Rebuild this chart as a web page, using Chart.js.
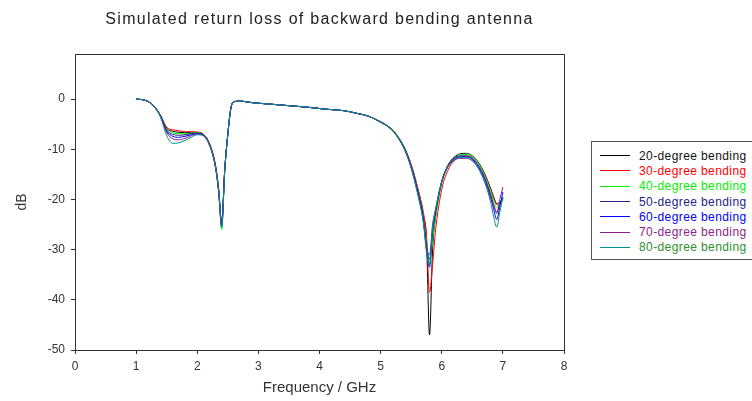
<!DOCTYPE html>
<html>
<head>
<meta charset="utf-8">
<script src="https://cdn.jsdelivr.net/npm/chart.js@4.4.1/dist/chart.umd.min.js"></script>
<style>
  html, body { margin: 0; padding: 0; background: #fff; overflow: hidden; }
  #wrap { position: relative; width: 752px; height: 401px; }
  #legend {
    position: absolute; left: 591px; top: 141px; width: 175px; height: 119px;
    border: 1px solid #555; background: #fff; box-sizing: border-box;
    padding-top: 6px; font-family: Arial, "Liberation Sans", sans-serif; font-size: 12px;
  }
  #legend .row { height: 15.3px; display: flex; align-items: center; white-space: nowrap; }
  #legend .swatch { width: 30px; height: 0; border-top: 1px solid; margin-left: 8px; margin-right: 9px; }
</style>
</head>
<body>
<div id="wrap">
  <canvas id="chart" width="752" height="401"></canvas>
  <div id="legend"></div>
</div>
<script>
const title = "Simulated return loss of backward bending antenna";
const xTitle = "Frequency / GHz";
const yTitle = "dB";

const freq = [1.0, 1.1, 1.2, 1.3, 1.4, 1.5, 1.6, 1.7, 1.8, 1.9,
  2.0, 2.1, 2.2, 2.3, 2.35, 2.4, 2.45, 2.5, 2.55, 2.6,
  2.7, 2.9, 3.2, 3.5, 3.8, 4.1, 4.4, 4.6, 4.8, 5.0,
  5.1, 5.2, 5.3, 5.4, 5.5, 5.6, 5.7, 5.75, 5.8, 5.85,
  5.9, 6.0, 6.1, 6.2, 6.3, 6.4, 6.5, 6.6, 6.7, 6.8,
  6.85, 6.9, 6.95, 7.0];

const labels = ["20-degree bending", "30-degree bending", "40-degree bending", "50-degree bending",
  "60-degree bending", "70-degree bending", "80-degree bending"];
const lineColors = ["#000000", "#ff0000", "#00ff00", "#23238c", "#0000ff", "#8c1f8c", "#009090"];
const textColors = ["#111111", "#ff0000", "#00ee00", "#23238c", "#0000ff", "#8c1f8c", "#2f8f2f"];

const deg20 = [0, -0.1, -0.5, -1.5, -3.3, -5.8, -6.4, -6.6, -6.7, -6.6,
  -6.6, -7.0, -8.9, -13.4, -18.0, -24.5, -14.0, -7.0, -1.8, -0.5,
  -0.4, -0.7, -1.0, -1.3, -1.6, -2.0, -2.3, -2.8, -3.4, -4.5,
  -5.2, -6.2, -7.8, -10.0, -13.2, -17.6, -23.2, -28.0, -47.0, -30.0,
  -23.5, -16.5, -13.2, -11.6, -10.9, -10.8, -11.3, -12.6, -14.8, -17.8,
  -19.5, -20.8, -20.5, -19.8];
const deg30 = [0, -0.1, -0.5, -1.5, -3.2, -5.6, -6.1, -6.3, -6.5, -6.5,
  -6.6, -7.0, -8.8, -13.2, -17.8, -24.8, -14.2, -7.1, -1.9, -0.5,
  -0.4, -0.7, -1.0, -1.3, -1.6, -2.0, -2.3, -2.8, -3.4, -4.5,
  -5.2, -6.2, -7.8, -9.9, -13.0, -17.3, -22.6, -27.0, -38.5, -33.0,
  -26.0, -18.0, -14.2, -12.3, -11.5, -11.3, -11.6, -12.8, -15.0, -18.0,
  -19.8, -21.0, -20.8, -20.0];
const deg40 = [0, -0.1, -0.5, -1.5, -3.3, -6.0, -6.7, -6.9, -6.9, -6.8,
  -6.7, -7.1, -9.0, -13.6, -18.3, -26.0, -14.3, -7.0, -1.8, -0.5,
  -0.4, -0.7, -1.0, -1.3, -1.6, -2.0, -2.3, -2.8, -3.4, -4.5,
  -5.2, -6.2, -7.8, -10.0, -13.3, -17.8, -23.5, -28.5, -33.0, -28.0,
  -23.5, -16.8, -13.4, -11.8, -11.1, -11.0, -11.5, -12.8, -15.2, -18.4,
  -20.2, -21.5, -21.0, -20.0];
const deg50 = [0, -0.1, -0.5, -1.5, -3.4, -6.2, -7.0, -7.2, -7.1, -6.9,
  -6.8, -7.1, -9.0, -13.5, -18.2, -25.0, -14.0, -7.0, -1.8, -0.5,
  -0.4, -0.7, -1.0, -1.3, -1.6, -2.0, -2.3, -2.8, -3.4, -4.6,
  -5.3, -6.3, -7.9, -10.1, -13.4, -18.0, -23.8, -29.0, -32.0, -26.5,
  -22.5, -16.4, -13.3, -11.8, -11.3, -11.3, -11.8, -13.2, -15.6, -19.0,
  -21.0, -22.5, -21.0, -19.5];
const deg60 = [0, -0.1, -0.5, -1.5, -3.4, -6.4, -7.4, -7.6, -7.4, -7.1,
  -6.9, -7.2, -9.1, -13.6, -18.3, -25.3, -14.1, -7.0, -1.8, -0.5,
  -0.4, -0.7, -1.0, -1.3, -1.6, -2.0, -2.3, -2.8, -3.4, -4.6,
  -5.3, -6.3, -7.9, -10.2, -13.5, -18.2, -24.2, -30.0, -33.5, -26.0,
  -22.3, -16.5, -13.5, -12.0, -11.5, -11.5, -12.0, -13.5, -16.0, -19.5,
  -22.0, -24.0, -21.5, -18.5];
const deg70 = [0, -0.1, -0.5, -1.6, -3.5, -6.7, -7.9, -8.1, -7.8, -7.3,
  -7.0, -7.3, -9.2, -13.8, -18.5, -25.2, -14.0, -7.0, -1.8, -0.5,
  -0.4, -0.7, -1.0, -1.3, -1.6, -2.0, -2.3, -2.8, -3.4, -4.6,
  -5.3, -6.3, -8.0, -10.3, -13.7, -18.5, -24.5, -29.5, -31.0, -25.0,
  -21.8, -16.3, -13.5, -12.2, -11.8, -11.8, -12.3, -13.8, -16.3, -19.8,
  -21.5, -22.8, -20.0, -17.5];
const deg80 = [0, -0.1, -0.5, -1.6, -3.6, -7.3, -8.8, -8.7, -8.2, -7.6,
  -7.1, -7.3, -9.1, -13.7, -18.4, -25.6, -14.2, -7.1, -1.8, -0.5,
  -0.4, -0.7, -1.0, -1.3, -1.6, -2.0, -2.3, -2.8, -3.4, -4.6,
  -5.3, -6.4, -8.0, -10.3, -13.8, -18.6, -24.8, -30.5, -33.0, -25.5,
  -22.0, -16.4, -13.5, -12.1, -11.6, -11.6, -12.2, -13.8, -16.5, -20.5,
  -23.5, -25.5, -22.5, -19.5];

const series = [deg20, deg30, deg40, deg50, deg60, deg70, deg80];

const xTicks = { min: 0, max: 8, step: 1 };
const yTicks = { min: -50, max: 9, step: 10 };

const FONT = 'Arial, "Liberation Sans", sans-serif';

// box round the plot + title centred over the plot area
const frame = {
  id: "frame",
  afterDraw(chart) {
    const { ctx, chartArea } = chart;
    ctx.save();
    ctx.strokeStyle = "#333";
    ctx.lineWidth = 1;
    ctx.strokeRect(Math.round(chartArea.left) + 0.5, Math.round(chartArea.top) + 0.5,
      Math.round(chartArea.right - chartArea.left), Math.round(chartArea.bottom - chartArea.top));
    ctx.fillStyle = "#222";
    ctx.font = "16px " + FONT;
    ctx.textAlign = "center";
    ctx.textBaseline = "alphabetic";
    ctx.letterSpacing = "1.3px";
    ctx.fillText(title, (chartArea.left + chartArea.right) / 2, 24);
    ctx.restore();
  },
};

const datasets = series.map((vals, i) => ({
  label: labels[i],
  data: freq.map((f, j) => ({ x: f, y: vals[j] })),
  borderColor: lineColors[i],
  backgroundColor: lineColors[i],
  borderWidth: 1,
  pointRadius: 0,
  cubicInterpolationMode: "monotone",
  fill: false,
  order: series.length - 1 - i,
}));

const chart = new Chart(document.getElementById("chart"), {
  type: "line",
  data: { datasets },
  options: {
    responsive: false,
    animation: false,
    layout: { padding: { left: 10, top: 54, right: 188, bottom: 0 } },
    plugins: { legend: { display: false }, tooltip: { enabled: false } },
    scales: {
      x: {
        type: "linear",
        min: xTicks.min,
        max: xTicks.max,
        ticks: { stepSize: xTicks.step, color: "#333", font: { family: FONT, size: 12 }, padding: 5 },
        grid: { drawOnChartArea: false, drawTicks: true, tickLength: 4, color: "#333" },
        border: { display: true, color: "#333" },
        title: { display: true, text: xTitle, color: "#333", font: { family: FONT, size: 15 } },
        afterFit(scale) { scale.height = 51; },
      },
      y: {
        min: yTicks.min,
        max: yTicks.max,
        ticks: { stepSize: yTicks.step, includeBounds: false, color: "#333", font: { family: FONT, size: 12 }, padding: 6 },
        grid: { drawOnChartArea: false, drawTicks: true, tickLength: 4, color: "#333" },
        border: { display: true, color: "#333" },
        title: { display: true, text: yTitle, color: "#333", font: { family: FONT, size: 14 } },
        afterFit(scale) { scale.width = 65; },
      },
    },
  },
  plugins: [frame],
});

// legend box on the right, built from the datasets
const legendEl = document.getElementById("legend");
labels.forEach((name, i) => {
  const ds = chart.data.datasets[i];
  const row = document.createElement("div");
  row.className = "row";
  const sw = document.createElement("span");
  sw.className = "swatch";
  sw.style.borderColor = ds.borderColor;
  const txt = document.createElement("span");
  txt.textContent = name;
  txt.style.color = textColors[i];
  txt.style.letterSpacing = "0.4px";
  row.appendChild(sw);
  row.appendChild(txt);
  legendEl.appendChild(row);
});
</script>
</body>
</html>
